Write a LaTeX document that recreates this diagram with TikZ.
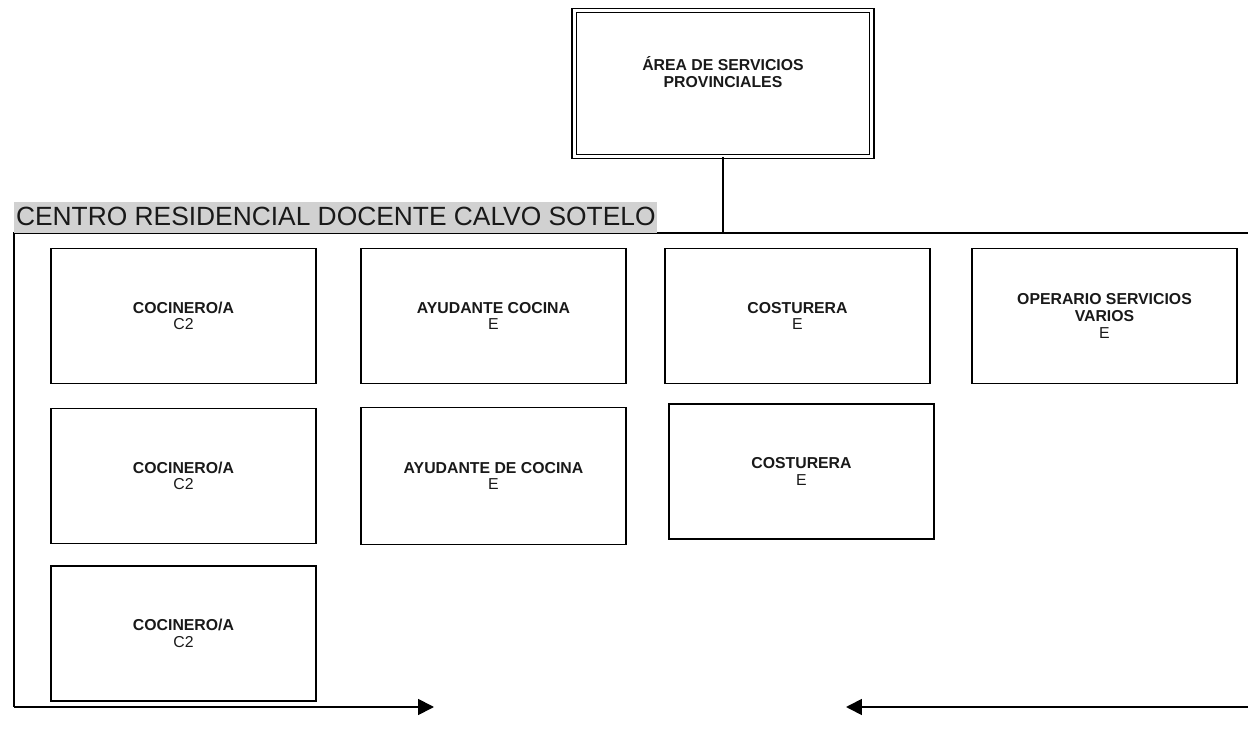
\documentclass[tikz,border=0pt]{standalone}
\usepackage{fontspec}
\setmainfont{Liberation Sans}
\usetikzlibrary{arrows.meta, positioning}

\begin{document}
\begin{tikzpicture}[x=0.02cm, y=-0.02cm,
    puesto/.style={draw, line width=0.8pt, minimum width=5.3cm, minimum height=2.7cm,
        align=center, font=\fontsize{9}{9.5}\selectfont, text=black!90},
    flecha/.style={line width=1pt, -{Triangle[length=9pt,width=9pt]}}]
    \useasboundingbox (0,0) rectangle (1248,739);

    % area de servicios
    \node[draw, double, line width=0.8pt, double distance=1.6pt, minimum width=5.95cm,
        minimum height=2.92cm, align=center, font=\fontsize{9}{9.5}\selectfont, text=black!90]
        (area) at (723,83.5) {\textbf{ÁREA DE SERVICIOS}\\\textbf{PROVINCIALES}\\[3.5pt]};

    % marco del centro
    \coordinate (marcoNO) at (14,233);
    \coordinate (marcoNE) at (1248,233);
    \coordinate (marcoSO) at (14,707);
    \coordinate (marcoSE) at (1248,707);
    \coordinate (finIzq) at (434,707);
    \coordinate (finDer) at (846,707);
    \draw[line width=0.8pt] (marcoNE) -- (marcoNO) -- (marcoSO);
    \draw[flecha] (marcoSO) -- (finIzq);
    \draw[flecha] (marcoSE) -- (finDer);
    \draw[line width=1pt] (area.south) -- (area.south |- marcoNE);

    \node[fill=black!18, anchor=south west, inner xsep=1pt, inner ysep=2pt,
        text height=11.4pt, text depth=2pt, font=\fontsize{15}{17}\selectfont, text=black!90]
        (centro) at (14,233) {CENTRO RESIDENCIAL DOCENTE CALVO SOTELO};

    % puestos
    \node[puesto] (coc1) at (183.5,316) {\textbf{COCINERO/A}\\C2};
    \node[puesto] (coc2) at (183.5,476) {\textbf{COCINERO/A}\\C2};
    \node[puesto] (coc3) at (183.5,633.5) {\textbf{COCINERO/A}\\C2};
    \node[puesto] (ayu1) at (493.5,316) {\textbf{AYUDANTE COCINA}\\E};
    \node[puesto, minimum height=2.74cm] (ayu2) at (493.5,476) {\textbf{AYUDANTE DE COCINA}\\E};
    \node[puesto] (cos1) at (797.5,316) {\textbf{COSTURERA}\\E};
    \node[puesto] (cos2) at (801.5,471.5) {\textbf{COSTURERA}\\E};
    \node[puesto] (ope1) at (1104.5,316) {\textbf{OPERARIO SERVICIOS}\\\textbf{VARIOS}\\E};
\end{tikzpicture}
\end{document}
